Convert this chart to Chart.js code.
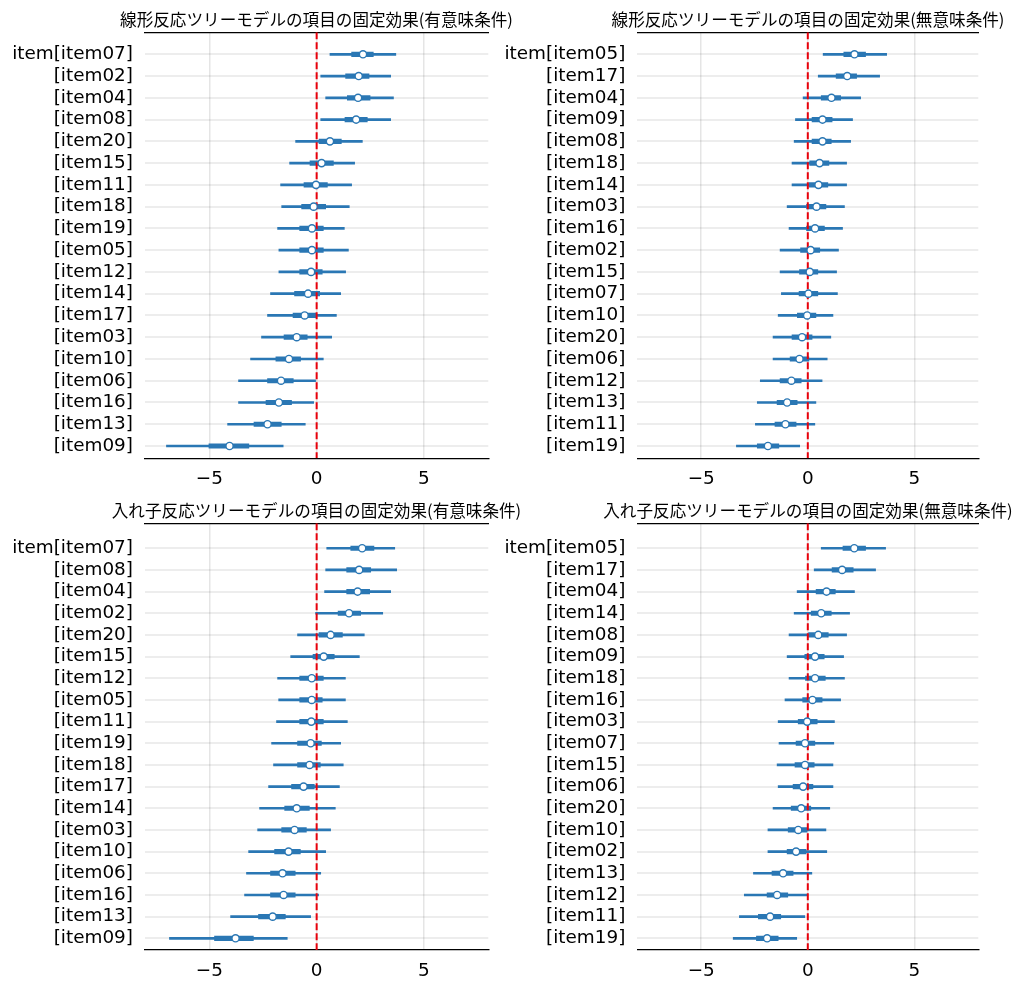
<!DOCTYPE html>
<html lang="ja">
<head>
<meta charset="utf-8">
<title>項目の固定効果</title>
<script src="https://cdn.jsdelivr.net/npm/chart.js@4.4.1/dist/chart.umd.min.js"></script>
<style>
  html, body { margin: 0; background: #fff; overflow: hidden; }
  #page { position: relative; width: 1025px; height: 989px; overflow: hidden; }
  .panel { position: absolute; }
</style>
</head>
<body>
<div id="page">
  <div class="panel" style="left:0;top:0;width:633px;height:490px"><canvas id="c1"></canvas></div>
  <div class="panel" style="left:500px;top:0;width:616px;height:490px"><canvas id="c2"></canvas></div>
  <div class="panel" style="left:0;top:490px;width:633px;height:499px"><canvas id="c3"></canvas></div>
  <div class="panel" style="left:500px;top:490px;width:616px;height:499px"><canvas id="c4"></canvas></div>
</div>
<script>
// ── Data (median, 94% HDI = thin line, 50% HDI = thick line) ─────────────────
const xTicks = [-5, 0, 5];
const REF_X  = 0;

// 線形反応ツリーモデル / 有意味条件
const linSigTitle = '線形反応ツリーモデルの項目の固定効果(有意味条件)';
const linSigItems = ['item07','item02','item04','item08','item20','item15','item11','item18','item19','item05',
                     'item12','item14','item17','item03','item10','item06','item16','item13','item09'];
const linSigMid  = [2.16, 1.96, 1.93, 1.84, 0.62, 0.23, -0.03, -0.14, -0.22, -0.22, -0.26, -0.40, -0.56, -0.93, -1.29, -1.66, -1.76, -2.29, -4.06];
const linSigLo94 = [0.62, 0.19, 0.42, 0.19, -0.98, -1.26, -1.68, -1.63, -1.82, -1.76, -1.76, -2.15, -2.29, -2.57, -3.08, -3.64, -3.64, -4.15, -7.00];
const linSigHi94 = [3.69, 3.45, 3.58, 3.45, 2.13, 1.77, 1.63, 1.52, 1.29, 1.48, 1.35, 1.12, 0.92, 0.70, 0.31, -0.05, -0.14, -0.53, -1.56];
const linSigLo50 = [1.63, 1.35, 1.43, 1.32, 0.11, -0.31, -0.59, -0.70, -0.79, -0.79, -0.79, -1.03, -1.10, -1.52, -1.90, -2.29, -2.36, -2.92, -5.02];
const linSigHi50 = [2.64, 2.44, 2.49, 2.36, 1.15, 0.78, 0.50, 0.42, 0.31, 0.31, 0.26, 0.14, -0.02, -0.44, -0.75, -1.09, -1.17, -1.65, -3.16];

// 線形反応ツリーモデル / 無意味条件
const linNonTitle = '線形反応ツリーモデルの項目の固定効果(無意味条件)';
const linNonItems = ['item05','item17','item04','item09','item08','item18','item14','item03','item16','item02',
                     'item15','item07','item10','item20','item06','item12','item13','item11','item19'];
const linNonMid  = [2.19, 1.85, 1.11, 0.69, 0.69, 0.55, 0.50, 0.41, 0.34, 0.13, 0.09, 0.03, -0.03, -0.27, -0.39, -0.77, -0.97, -1.05, -1.87];
const linNonLo94 = [0.72, 0.49, -0.22, -0.58, -0.64, -0.74, -0.74, -0.97, -0.88, -1.30, -1.30, -1.24, -1.39, -1.63, -1.63, -2.23, -2.37, -2.46, -3.35];
const linNonHi94 = [3.70, 3.37, 2.48, 2.10, 2.01, 1.82, 1.82, 1.72, 1.63, 1.44, 1.35, 1.39, 1.18, 1.08, 0.91, 0.67, 0.38, 0.33, -0.38];
const linNonLo50 = [1.69, 1.33, 0.63, 0.20, 0.20, 0.09, 0.05, -0.06, -0.06, -0.34, -0.39, -0.41, -0.49, -0.74, -0.83, -1.30, -1.44, -1.54, -2.37];
const linNonHi50 = [2.71, 2.29, 1.54, 1.14, 1.10, 0.99, 0.94, 0.85, 0.78, 0.56, 0.47, 0.47, 0.38, 0.20, 0.05, -0.31, -0.50, -0.55, -1.36];

// 入れ子反応ツリーモデル / 有意味条件
const nesSigTitle = '入れ子反応ツリーモデルの項目の固定効果(有意味条件)';
const nesSigItems = ['item07','item08','item04','item02','item20','item15','item12','item05','item11','item19',
                     'item18','item17','item14','item03','item10','item06','item16','item13','item09'];
const nesSigMid  = [2.12, 1.98, 1.91, 1.51, 0.65, 0.33, -0.23, -0.23, -0.25, -0.28, -0.33, -0.61, -0.93, -1.03, -1.31, -1.59, -1.54, -2.05, -3.78];
const nesSigLo94 = [0.47, 0.42, 0.37, -0.05, -0.89, -1.21, -1.82, -1.77, -1.87, -2.10, -2.01, -2.24, -2.66, -2.75, -3.17, -3.27, -3.36, -4.01, -6.86];
const nesSigHi94 = [3.64, 3.73, 3.45, 3.08, 2.22, 1.99, 1.34, 1.34, 1.43, 1.12, 1.24, 1.06, 0.87, 0.65, 0.42, 0.19, 0.09, -0.28, -1.37];
const nesSigLo50 = [1.59, 1.40, 1.40, 1.00, 0.11, -0.17, -0.79, -0.79, -0.79, -0.89, -0.89, -1.17, -1.49, -1.63, -1.96, -2.15, -2.15, -2.71, -4.76];
const nesSigHi50 = [2.67, 2.52, 2.47, 2.05, 1.20, 0.82, 0.31, 0.26, 0.31, 0.22, 0.17, -0.11, -0.34, -0.48, -0.76, -1.00, -1.00, -1.46, -2.95];

// 入れ子反応ツリーモデル / 無意味条件
const nesNonTitle = '入れ子反応ツリーモデルの項目の固定効果(無意味条件)';
const nesNonItems = ['item05','item17','item04','item14','item08','item09','item18','item16','item03','item07',
                     'item15','item06','item20','item10','item02','item13','item12','item11','item19'];
const nesNonMid  = [2.18, 1.61, 0.88, 0.63, 0.49, 0.34, 0.34, 0.22, -0.03, -0.13, -0.13, -0.22, -0.31, -0.45, -0.55, -1.16, -1.44, -1.77, -1.91];
const nesNonLo94 = [0.63, 0.30, -0.50, -0.64, -0.88, -0.97, -0.88, -1.07, -1.39, -1.35, -1.44, -1.39, -1.63, -1.87, -1.87, -2.55, -2.98, -3.21, -3.50];
const nesNonHi94 = [3.65, 3.18, 2.19, 1.96, 1.82, 1.68, 1.72, 1.54, 1.25, 1.22, 1.18, 1.18, 1.03, 0.85, 0.89, 0.19, 0.00, -0.14, -0.52];
const nesNonLo50 = [1.65, 1.14, 0.39, 0.16, 0.00, -0.14, -0.11, -0.24, -0.45, -0.55, -0.60, -0.69, -0.78, -0.92, -0.97, -1.68, -1.91, -2.32, -2.41];
const nesNonHi50 = [2.71, 2.13, 1.29, 1.10, 0.96, 0.77, 0.82, 0.67, 0.44, 0.33, 0.30, 0.24, 0.14, 0.00, -0.08, -0.69, -0.94, -1.27, -1.39];

// ── Style / layout ────────────────────────────────────────────────────────────
const BLUE       = '#2a77b4';
const RED        = '#e8000b';
const TICK_FONT  = { family: '"DejaVu Sans", Verdana, sans-serif', size: 18.4 };
const TITLE_FONT = { family: '"Noto Sans CJK JP", sans-serif', size: 16.6, weight: 'normal' };

const topRow    = { xMin: -8, xMax: 8, yMin: -1.01, yMax: 18.565, xAxisH: 31.7, titlePad: { top: 9.4, bottom: 3.0 } };
const bottomRow = { xMin: -8, xMax: 8, yMin: -1.15, yMax: 18.54,  xAxisH: 39.0, titlePad: { top: 11.2, bottom: 2.2 } };
const leftCol   = { yAxisW: 145,   rightW: 144.7 };
const rightCol  = { yAxisW: 137.3, rightW: 137.7 };

const minus = v => (v < 0 ? '\u2212' + Math.abs(v) : String(v));

// ── Chart ─────────────────────────────────────────────────────────────────────
function forestChart(canvasId, title, items, mid, lo94, hi94, lo50, hi50, row, col) {
  const rows   = items.map((_, i) => i);
  const labels = items.map((n, i) => (i === 0 ? `item[${n}]` : `[${n}]`));

  const thin  = rows.map(i => ({ x: [lo94[i], hi94[i]], y: i }));
  const thick = rows.map(i => ({ x: [lo50[i], hi50[i]], y: i }));
  const dots  = rows.map(i => ({ x: mid[i], y: i }));

  return new Chart(document.getElementById(canvasId), {
    type: 'bar',
    data: {
      datasets: [
        { type: 'scatter', data: dots, order: 0, xAxisID: 'x', yAxisID: 'y',
          pointRadius: 3.6, pointBorderWidth: 1.4, pointBackgroundColor: '#fff', pointBorderColor: BLUE },
        { type: 'line', data: [{ x: REF_X, y: row.yMin }, { x: REF_X, y: row.yMax }], order: 1,
          xAxisID: 'x', yAxisID: 'y', borderColor: RED, borderWidth: 2, borderDash: [7, 3], pointRadius: 0 },
        { type: 'bar', indexAxis: 'y', data: thick, order: 2, xAxisID: 'x', yAxisID: 'y',
          barThickness: 4.5, grouped: false, backgroundColor: BLUE },
        { type: 'bar', indexAxis: 'y', data: thin, order: 3, xAxisID: 'x', yAxisID: 'y',
          barThickness: 2, grouped: false, backgroundColor: BLUE },
      ],
    },
    options: {
      responsive: true,
      maintainAspectRatio: false,
      animation: false,
      layout: { padding: 0 },
      plugins: {
        legend: { display: false },
        tooltip: { enabled: false },
        title: { display: true, text: title, font: TITLE_FONT, color: '#000', padding: row.titlePad },
      },
      scales: {
        x: {
          type: 'linear', position: 'bottom', min: row.xMin, max: row.xMax, offset: false,
          afterBuildTicks: s => { s.ticks = xTicks.map(v => ({ value: v })); },
          afterFit: s => { s.height = row.xAxisH; },
          ticks: { font: TICK_FONT, color: '#000', padding: 10, maxRotation: 0, autoSkip: false, callback: minus },
          grid: { color: 'rgba(0,0,0,0.1)', lineWidth: 1.5, drawTicks: false, offset: false },
          border: { display: true, color: '#000', width: 1.2 },
        },
        xTop: {
          type: 'linear', position: 'top', min: row.xMin, max: row.xMax,
          afterFit: s => { s.height = 0; },
          ticks: { display: false },
          grid: { display: false, drawTicks: false },
          border: { display: true, color: '#000', width: 1.2 },
        },
        y: {
          type: 'linear', position: 'left', min: row.yMin, max: row.yMax, reverse: true, offset: false,
          afterBuildTicks: s => { s.ticks = rows.map(v => ({ value: v })); },
          afterFit: s => { s.width = col.yAxisW; },
          ticks: { font: TICK_FONT, color: '#000', padding: 12, autoSkip: false, callback: v => labels[v] },
          grid: { color: 'rgba(0,0,0,0.07)', lineWidth: 2, drawTicks: false, offset: false },
          border: { display: false },
        },
        yR: {
          type: 'linear', position: 'right', min: row.yMin, max: row.yMax,
          afterFit: s => { s.width = col.rightW; },
          ticks: { display: false },
          grid: { display: false, drawTicks: false },
          border: { display: false },
        },
      },
    },
  });
}

forestChart('c1', linSigTitle, linSigItems, linSigMid, linSigLo94, linSigHi94, linSigLo50, linSigHi50, topRow, leftCol);
forestChart('c2', linNonTitle, linNonItems, linNonMid, linNonLo94, linNonHi94, linNonLo50, linNonHi50, topRow, rightCol);
forestChart('c3', nesSigTitle, nesSigItems, nesSigMid, nesSigLo94, nesSigHi94, nesSigLo50, nesSigHi50, bottomRow, leftCol);
forestChart('c4', nesNonTitle, nesNonItems, nesNonMid, nesNonLo94, nesNonHi94, nesNonLo50, nesNonHi50, bottomRow, rightCol);
</script>
</body>
</html>
